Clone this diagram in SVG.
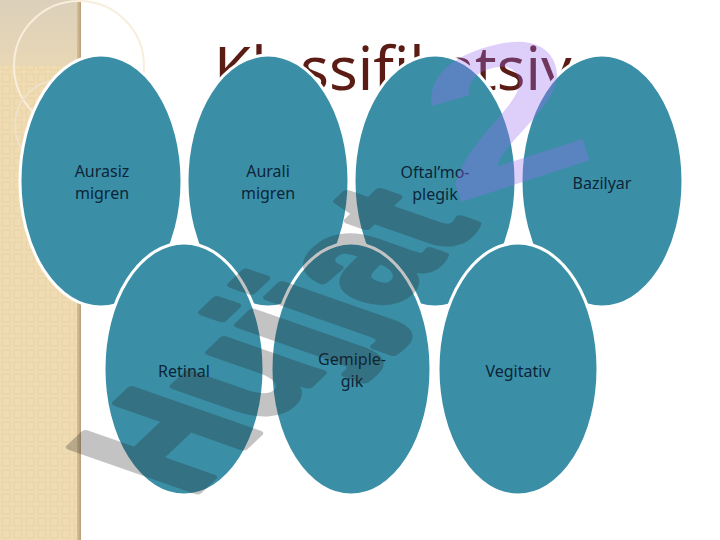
<svg xmlns="http://www.w3.org/2000/svg" width="720" height="540" viewBox="0 0 720 540">
<defs>
<pattern id="grid" x="0" y="0" width="12" height="12" patternUnits="userSpaceOnUse">
<rect x="2" y="2" width="8" height="8" fill="none" stroke="#E6CFA3" stroke-width="0.8"/>
</pattern>
<linearGradient id="edge" x1="0" y1="0" x2="1" y2="0">
<stop offset="0" stop-color="#D9C196"/>
<stop offset="1" stop-color="#B89E78"/>
</linearGradient>
<linearGradient id="topblock" x1="0" y1="0" x2="0" y2="1">
<stop offset="0" stop-color="#DCD0BB"/>
<stop offset="1" stop-color="#E8D7B5"/>
</linearGradient>
</defs>
<style>
.node ellipse{fill:#3A8FA7;stroke:#FFFFFF;stroke-width:3}
.node text{font-family:"Noto Sans","Open Sans","DejaVu Sans",sans-serif;font-size:16px;fill:#0D2538;text-anchor:middle}
.title{font-family:"Noto Sans","Open Sans","DejaVu Sans",sans-serif;font-size:60px;fill:#5A1C14}
.wm{font-family:"Liberation Sans","DejaVu Sans",sans-serif;font-weight:bold;font-size:100px}
.wm2{font-family:"Liberation Sans","DejaVu Sans",sans-serif;font-weight:bold;font-size:200px}
</style>
<rect width="720" height="540" fill="#FFFFFF"/>
<g id="sidebar">
<rect x="0" y="0" width="80" height="540" fill="#F0DCB2"/>
<rect x="0" y="0" width="80" height="540" fill="url(#grid)"/>
<rect x="0" y="0" width="80" height="66" fill="url(#topblock)"/>
<rect x="77" y="0" width="4" height="540" fill="url(#edge)"/>
<circle cx="79" cy="66" r="65" fill="none" stroke="#F8EEDC" stroke-width="2"/>
<circle cx="60" cy="125" r="45" fill="none" stroke="#EEE2CC" stroke-width="1.5"/>
</g>
<text class="title" x="214" y="90">Klassifikatsiya</text>
<g id="n1" class="node"><ellipse cx="101" cy="181" rx="81" ry="126"/><text x="102" y="177">Aurasiz</text><text x="102" y="199">migren</text></g>
<g id="n2" class="node"><ellipse cx="268" cy="181" rx="81" ry="126"/><text x="268" y="177">Aurali</text><text x="268" y="199">migren</text></g>
<g id="n3" class="node"><ellipse cx="435" cy="181" rx="81" ry="126"/><text x="435" y="178">Oftal’mo-</text><text x="435" y="200">plegik</text></g>
<g id="n4" class="node"><ellipse cx="602" cy="181" rx="81" ry="126"/><text x="602" y="189">Bazilyar</text></g>
<g id="n5" class="node"><ellipse cx="184" cy="369" rx="80" ry="126"/><text x="184" y="377">Retinal</text></g>
<g id="n6" class="node"><ellipse cx="351" cy="369" rx="80" ry="126"/><text x="352" y="365">Gemiple-</text><text x="352" y="387">gik</text></g>
<g id="n7" class="node"><ellipse cx="518" cy="369" rx="80" ry="126"/><text x="518" y="377">Vegitativ</text></g>
<g id="connectors"></g>
<g id="watermark">
<g opacity="0.27"><text class="wm" fill="#262626" stroke="#262626" stroke-width="5" stroke-linejoin="round" transform="matrix(1.04 -0.99 1.83 0.64 190 498)">Hujjat</text></g>
<g opacity="0.33"><text class="wm2" fill="#9A6EF2" transform="translate(452,205) rotate(-18) scale(1.4,1)">2</text></g>
</g>
</svg>
